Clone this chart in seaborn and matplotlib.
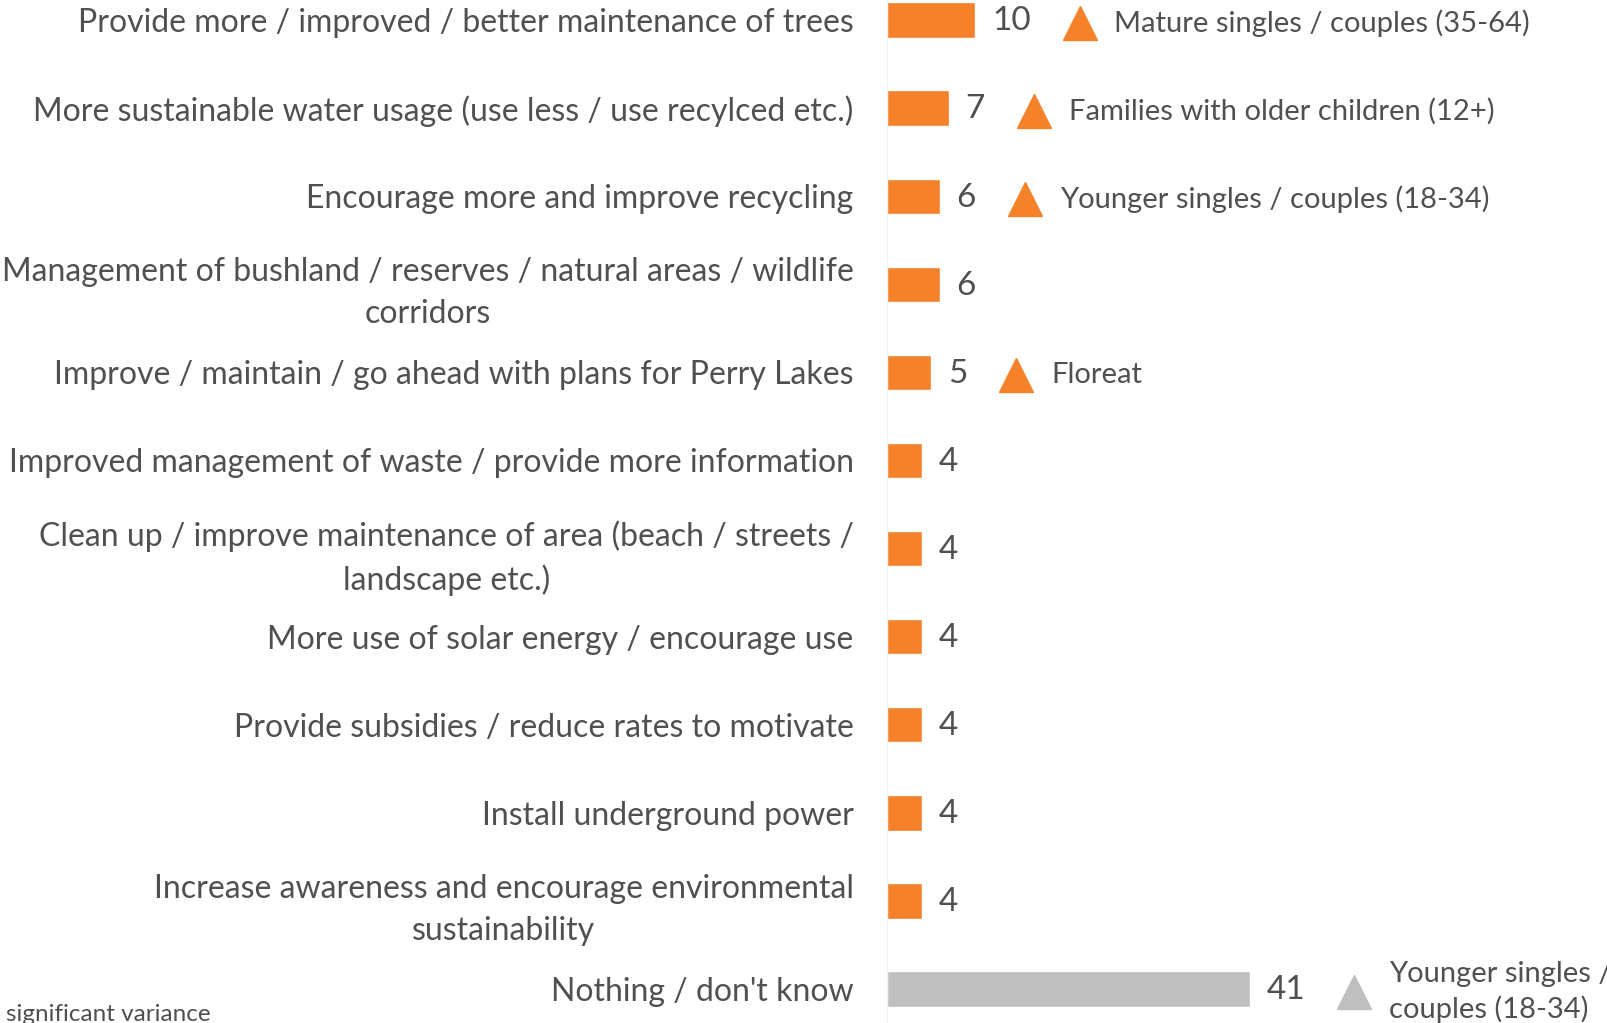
import seaborn as sns, pandas as pd
import matplotlib
matplotlib.use("Agg")
import matplotlib.pyplot as plt

categories = [
    "Provide more / improved / better maintenance of trees",
    "More sustainable water usage (use less / use recylced etc.)",
    "Encourage more and improve recycling",
    "Management of bushland / reserves / natural areas / wildlife\ncorridors",
    "Improve / maintain / go ahead with plans for Perry Lakes",
    "Improved management of waste / provide more information",
    "Clean up / improve maintenance of area (beach / streets /\nlandscape etc.)",
    "More use of solar energy / encourage use",
    "Provide subsidies / reduce rates to motivate",
    "Install underground power",
    "Increase awareness and encourage environmental\nsustainability",
    "Nothing / don't know",
]
values = [10, 7, 6, 6, 5, 4, 4, 4, 4, 4, 4, 41]
notes = [
    "Mature singles / couples (35-64)",
    "Families with older children (12+)",
    "Younger singles / couples (18-34)",
    "",
    "Floreat",
    "", "", "", "", "", "",
    "Younger singles /\ncouples (18-34)",
]
ORANGE = "#F5822A"
GREY = "#BFBFBF"
bar_colors = [ORANGE] * 11 + [GREY]
TEXT = "#505050"

sns.set_style("white")
plt.rcParams['font.family'] = ['Lato', 'DejaVu Sans']

df = pd.DataFrame({'category': categories, 'value': values})

fig = plt.figure(figsize=(16.08, 10.23), dpi=100)
ax = fig.add_axes([887 / 1608, 0, 721 / 1608, 1])
sns.barplot(data=df, x='value', y='category', hue='category', palette=bar_colors,
            orient='h', width=0.4, legend=False, saturation=1, ax=ax)

ax.set_xlim(0, 81.5)
ax.set_ylim(11.385, -0.227)
ax.set_xlabel("")
ax.set_ylabel("")
ax.set_xticks([])
for s in ['top', 'right', 'bottom']:
    ax.spines[s].set_visible(False)
ax.spines['left'].set_color('#f0f0f0')
ax.tick_params(axis='y', which='major', length=0, pad=24, labelsize=23, labelcolor=TEXT)
ax.set_yticks(range(len(categories)), categories)
for lab in ax.get_yticklabels():
    lab.set_multialignment('center')
    lab.set_linespacing(1.5)
ax.set_yticks([i + 0.5 for i in range(len(categories) - 1)], minor=True)
ax.tick_params(axis='y', which='minor', length=8, width=1, color='#eeeeee')

# value labels
vtexts = []
for i, v in enumerate(values):
    t = ax.annotate(str(v), xy=(v, i), xytext=(12, -1), textcoords='offset points',
                    va='center', ha='left', fontsize=24, color=TEXT)
    vtexts.append(t)

fig.canvas.draw()
inv = ax.transData.inverted()
for i, note in enumerate(notes):
    if not note:
        continue
    bb = vtexts[i].get_window_extent()
    _, yrow = ax.transData.transform((0, i))
    xd, yd = inv.transform((bb.x1 + 49, yrow - 3))
    ax.plot([xd], [yd], marker='^', markersize=24, color=bar_colors[i],
            linestyle='none', clip_on=False)
    ax.annotate(note, xy=(xd, yd), xytext=(25, 0), textcoords='offset points',
                va='center', ha='left', fontsize=21, color=TEXT,
                linespacing=1.4, annotation_clip=False)

fig.text(6 / 1608, 0.002, "significant variance", fontsize=17.5, color=TEXT,
         ha='left', va='baseline')

fig.savefig("out.png", dpi=100)
